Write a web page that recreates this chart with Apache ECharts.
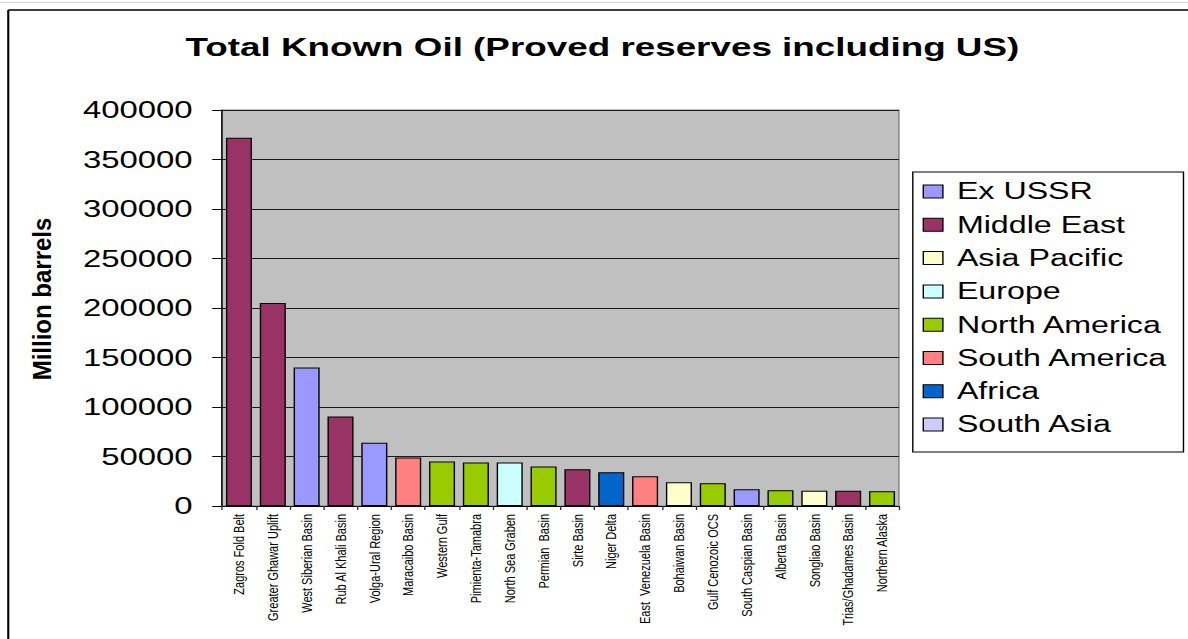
<!DOCTYPE html>
<html>
<head>
<meta charset="utf-8">
<title>Total Known Oil</title>
<script src="https://cdn.jsdelivr.net/npm/echarts@6/dist/echarts.min.js"></script>
<style>
  html, body { margin: 0; padding: 0; background: #fff; overflow: hidden; }
  #wrap { position: absolute; left: 0; top: 0; width: 1188px; height: 639px; overflow: hidden; }
  /* the chart is laid out on a narrower canvas and widened, giving the broad lettering */
  #chart { width: 849px; height: 639px; transform: scaleX(1.4); transform-origin: 0 0; }
</style>
</head>
<body>
<div id="wrap"><div id="chart"></div></div>
<script>
// Basins, largest first
const basins = [
  'Zagros Fold Belt', 'Greater Ghawar Uplift', 'West Siberian Basin', 'Rub Al Khali Basin',
  'Volga-Ural Region', 'Maracaibo Basin', 'Western Gulf', 'Pimienta-Tamabra',
  'North Sea Graben', 'Permian  Basin', 'Sirte Basin', 'Niger Delta',
  'East  Venezuela Basin', 'Bohaiwan Basin', 'Gulf Cenozoic OCS', 'South Caspian Basin',
  'Alberta Basin', 'Songliao Basin', 'Trias/Ghadames Basin', 'Northern Alaska'
];

// Proved reserves, million barrels
const reserves = [
  372000, 205000, 140000, 90500,
  64000, 49000, 45000, 44000,
  44000, 40000, 37000, 34000,
  30000, 24000, 23000, 17000,
  16000, 15500, 15500, 15000
];

// Region of each basin
const basinRegion = [
  'Middle East', 'Middle East', 'Ex USSR', 'Middle East',
  'Ex USSR', 'South America', 'North America', 'North America',
  'Europe', 'North America', 'Middle East', 'Africa',
  'South America', 'Asia Pacific', 'North America', 'Ex USSR',
  'North America', 'Asia Pacific', 'Middle East', 'North America'
];

const regions = ['Ex USSR', 'Middle East', 'Asia Pacific', 'Europe', 'North America', 'South America', 'Africa', 'South Asia'];
const regionColors = ['#9999FF', '#993366', '#FFFFCC', '#CCFFFF', '#99CC00', '#FF8080', '#0066CC', '#CCCCFF'];

// Value axis range
const yMin = 0;
const yMax = 400000;
const yStep = 50000;

const FONT = "'Liberation Sans', Arial, sans-serif";

const chart = echarts.init(document.getElementById('chart'), null, { renderer: 'svg' });

// one series per region, all on one stack so every basin gets a single full-width bar
const series = regions.map((region, i) => ({
  name: region,
  type: 'bar',
  stack: 'basins',
  barWidth: '77%',
  itemStyle: { color: regionColors[i], borderColor: '#000', borderWidth: 1 },
  emphasis: { disabled: true },
  data: reserves.map((v, k) => (basinRegion[k] === region ? v : '-'))
}));

chart.setOption({
  animation: false,
  backgroundColor: '#fff',
  title: {
    text: 'Total Known Oil (Proved reserves including US)',
    left: 132.5,
    top: 34,
    padding: 0,
    textStyle: { fontFamily: FONT, fontSize: 26.3, fontWeight: 'bold', color: '#000' }
  },
  legend: {
    orient: 'vertical',
    left: 652,
    top: 172,
    icon: 'rect',
    itemWidth: 14,
    itemHeight: 13,
    itemGap: 10.3,
    padding: [8, 11, 16, 7],
    borderColor: '#000',
    borderWidth: 1,
    borderRadius: 0,
    backgroundColor: '#fff',
    selectedMode: false,
    data: regions,
    itemStyle: { borderColor: '#000', borderWidth: 1 },
    textStyle: { fontFamily: FONT, fontSize: 23, color: '#000', padding: [0, 0, 0, 5] }
  },
  grid: {
    left: 158.6,
    right: 206.9,
    top: 110,
    bottom: 133,
    show: true,
    backgroundColor: '#C0C0C0',
    borderColor: '#808080',
    borderWidth: 1,
    outerBoundsMode: 'none'
  },
  xAxis: {
    type: 'category',
    data: basins,
    axisLine: { show: true, lineStyle: { color: '#000', width: 1 } },
    axisTick: { show: true, length: 4, lineStyle: { color: '#333' } },
    axisLabel: {
      interval: 0,
      rotate: 90,
      margin: 8,
      fontFamily: FONT,
      fontSize: 11,
      color: '#000'
    },
    splitLine: { show: false }
  },
  yAxis: {
    type: 'value',
    min: yMin,
    max: yMax,
    interval: yStep,
    axisLine: { show: true, lineStyle: { color: '#000', width: 1 } },
    axisTick: { show: true, length: 7, lineStyle: { color: '#000' } },
    axisLabel: {
      margin: 21,
      fontFamily: FONT,
      fontSize: 23.5,
      color: '#000',
      formatter: (v) => String(v)
    },
    splitLine: { show: true, lineStyle: { color: '#1a1a1a', width: 1 } }
  },
  graphic: [
    // chart frame
    { type: 'line', silent: true, shape: { x1: 0, y1: 2.5, x2: 849, y2: 2.5 }, style: { stroke: '#d4d4d4', lineWidth: 1 } },
    { type: 'line', silent: true, shape: { x1: 5.9, y1: 10, x2: 849, y2: 10 }, style: { stroke: '#000', lineWidth: 1.5 } },
    { type: 'line', silent: true, shape: { x1: 5.9, y1: 10, x2: 5.9, y2: 639 }, style: { stroke: '#000', lineWidth: 1.5 } },
    // value axis caption
    {
      type: 'text',
      silent: true,
      x: 30.4,
      y: 299,
      rotation: Math.PI / 2,
      scaleY: 0.75,
      style: {
        text: 'Million barrels',
        x: 0,
        y: 0,
        align: 'center',
        verticalAlign: 'middle',
        fontFamily: FONT,
        fontSize: 24,
        fontWeight: 'bold',
        fill: '#000'
      }
    }
  ],
  series: series
});
</script>
</body>
</html>
